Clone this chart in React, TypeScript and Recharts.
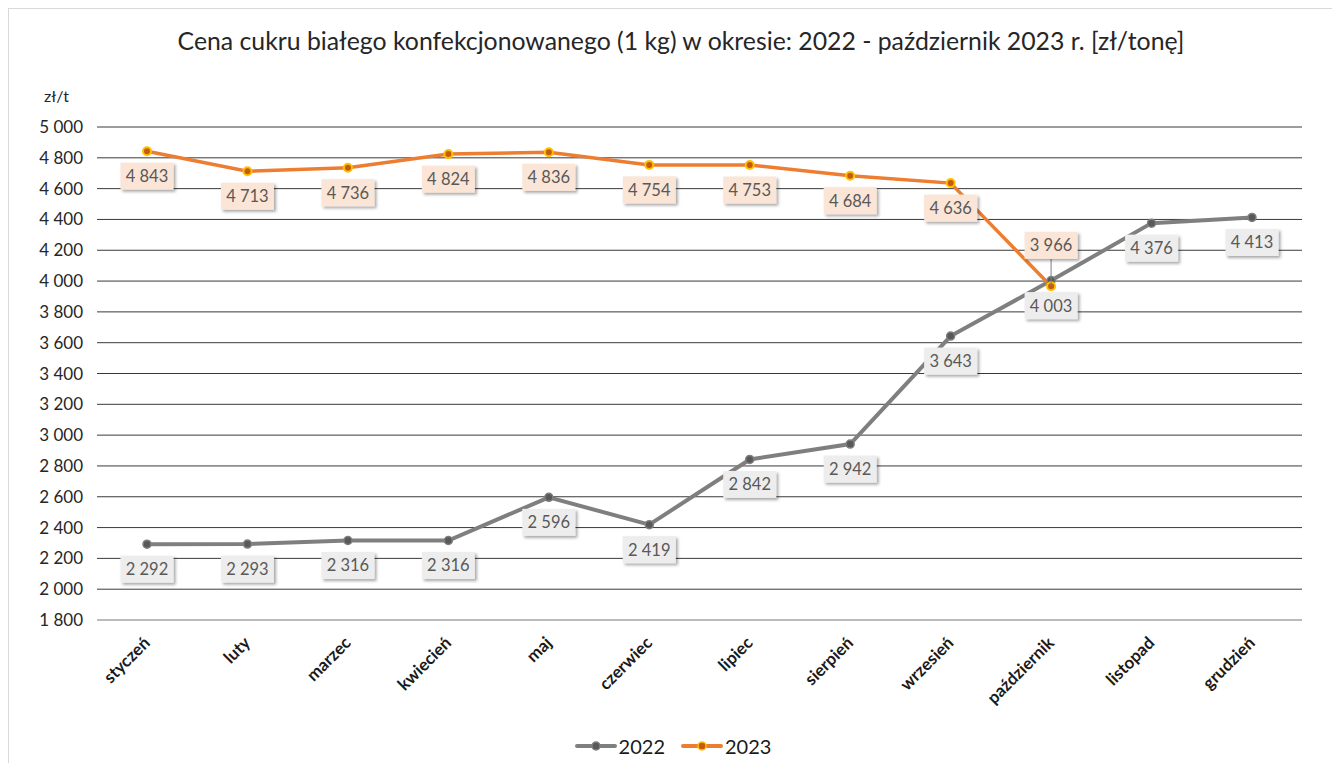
import React from "react";
import { LineChart, Line, XAxis, YAxis, CartesianGrid } from "recharts";

const months = [
  "styczeń",
  "luty",
  "marzec",
  "kwiecień",
  "maj",
  "czerwiec",
  "lipiec",
  "sierpień",
  "wrzesień",
  "październik",
  "listopad",
  "grudzień",
];
const values2022 = [2292, 2293, 2316, 2316, 2596, 2419, 2842, 2942, 3643, 4003, 4376, 4413];
const values2023 = [4843, 4713, 4736, 4824, 4836, 4754, 4753, 4684, 4636, 3966, null, null];
const yTicks = [1800, 2000, 2200, 2400, 2600, 2800, 3000, 3200, 3400, 3600, 3800, 4000, 4200, 4400, 4600, 4800, 5000];

const data = months.map((m, i) => ({ name: m, y2022: values2022[i], y2023: values2023[i] }));

const FONT = "Lato, 'Open Sans', sans-serif";
const fmt = (v: number) => String(v).replace(/\B(?=(\d{3})+(?!\d))/g, " ");

const makeLabel = (fill: string, aboveIndex: number | null) => (props: any) => {
  const { x, y, value, index } = props;
  if (value == null || x == null || y == null) return null;
  const w = 53;
  const h = 27;
  const above = index === aboveIndex;
  const cy = above ? y - 41 : y + 25;
  return (
    <g key={`lbl-${index}`}>
      {above && <line x1={x} y1={cy + h / 2} x2={x} y2={y} stroke="#7f7f7f" strokeWidth={1} />}
      <rect x={x - w / 2} y={cy - h / 2} width={w} height={h} fill={fill} filter="url(#boxShadow)" />
      <text x={x} y={cy} dy="0.36em" textAnchor="middle" fontSize={16.5} fontFamily={FONT} fill="#595959">
        {fmt(value)}
      </text>
    </g>
  );
};

const MonthTick = ({ x, y, payload }: any) => (
  <g transform={`translate(${x + 4},${y + 16})`}>
    <text textAnchor="end" transform="rotate(-45)" fontSize={17} fontWeight={700} fontFamily={FONT} fill="#1a1a1a">
      {payload.value}
    </text>
  </g>
);

const LegendItem = ({ color, dot, stroke, label }: { color: string; dot: string; stroke: string; label: string }) => (
  <div style={{ display: "flex", alignItems: "center", marginRight: 16 }}>
    <svg width={42} height={14}>
      <line x1={2} y1={7} x2={40} y2={7} stroke={color} strokeWidth={4} strokeLinecap="round" />
      <circle cx={21} cy={7} r={4} fill={dot} stroke={stroke} strokeWidth={1.5} />
    </svg>
    <span style={{ marginLeft: 2 }}>{label}</span>
  </div>
);

export default function App() {
  return (
    <div
      style={{
        position: "relative",
        width: 1331,
        height: 754,
        borderTop: "1px solid #d9d9d9",
        borderLeft: "1px solid #d9d9d9",
        background: "#fff",
        fontFamily: FONT,
      }}
    >
      <svg width={0} height={0} style={{ position: "absolute" }}>
        <defs>
          <filter id="boxShadow" x="-20%" y="-20%" width="150%" height="160%">
            <feDropShadow dx={2} dy={2} stdDeviation={1.5} floodColor="#000" floodOpacity={0.35} />
          </filter>
        </defs>
      </svg>
      <div
        style={{
          position: "absolute",
          top: 17,
          left: 2,
          width: 1340,
          textAlign: "center",
          fontSize: 24.8,
          color: "#262626",
        }}
      >
        Cena cukru białego konfekcjonowanego (1 kg) w okresie: 2022 - październik 2023 r. [zł/tonę]
      </div>
      <div style={{ position: "absolute", top: 77, left: 35, fontSize: 16, color: "#262626" }}>zł/t</div>
      <LineChart width={1331} height={754} data={data} margin={{ top: 118, right: 38, bottom: 0, left: 0 }}>
        <CartesianGrid vertical={false} stroke="#3a3a3a" strokeWidth={1} />
        <XAxis
          dataKey="name"
          interval={0}
          height={143}
          padding={{ left: 50, right: 50 }}
          tick={<MonthTick />}
          tickLine={false}
          axisLine={{ stroke: "#d9d9d9", strokeWidth: 1 }}
        />
        <YAxis
          width={88}
          domain={[1800, 5000]}
          ticks={yTicks}
          tickFormatter={fmt}
          tickSize={0}
          tickMargin={14}
          axisLine={false}
          tickLine={false}
          tick={{ fontSize: 17, fill: "#262626", fontFamily: FONT }}
        />
        <Line
          dataKey="y2022"
          stroke="#7f7f7f"
          strokeWidth={4}
          strokeLinecap="round"
          dot={{ r: 4, fill: "#595959", stroke: "#7f7f7f", strokeWidth: 1.5 }}
          isAnimationActive={false}
          label={makeLabel("#ededed", null)}
        />
        <Line
          dataKey="y2023"
          stroke="#ed7d31"
          strokeWidth={3.5}
          strokeLinecap="round"
          dot={{ r: 4, fill: "#c55a11", stroke: "#ffc000", strokeWidth: 2 }}
          isAnimationActive={false}
          label={makeLabel("#fbe5d6", 9)}
        />
      </LineChart>
      <div
        style={{
          position: "absolute",
          top: 725,
          left: 2,
          width: 1340,
          display: "flex",
          justifyContent: "center",
          fontSize: 20,
          color: "#1a1a1a",
        }}
      >
        <LegendItem color="#7f7f7f" dot="#595959" stroke="#7f7f7f" label="2022" />
        <LegendItem color="#ed7d31" dot="#c55a11" stroke="#ffc000" label="2023" />
      </div>
    </div>
  );
}
